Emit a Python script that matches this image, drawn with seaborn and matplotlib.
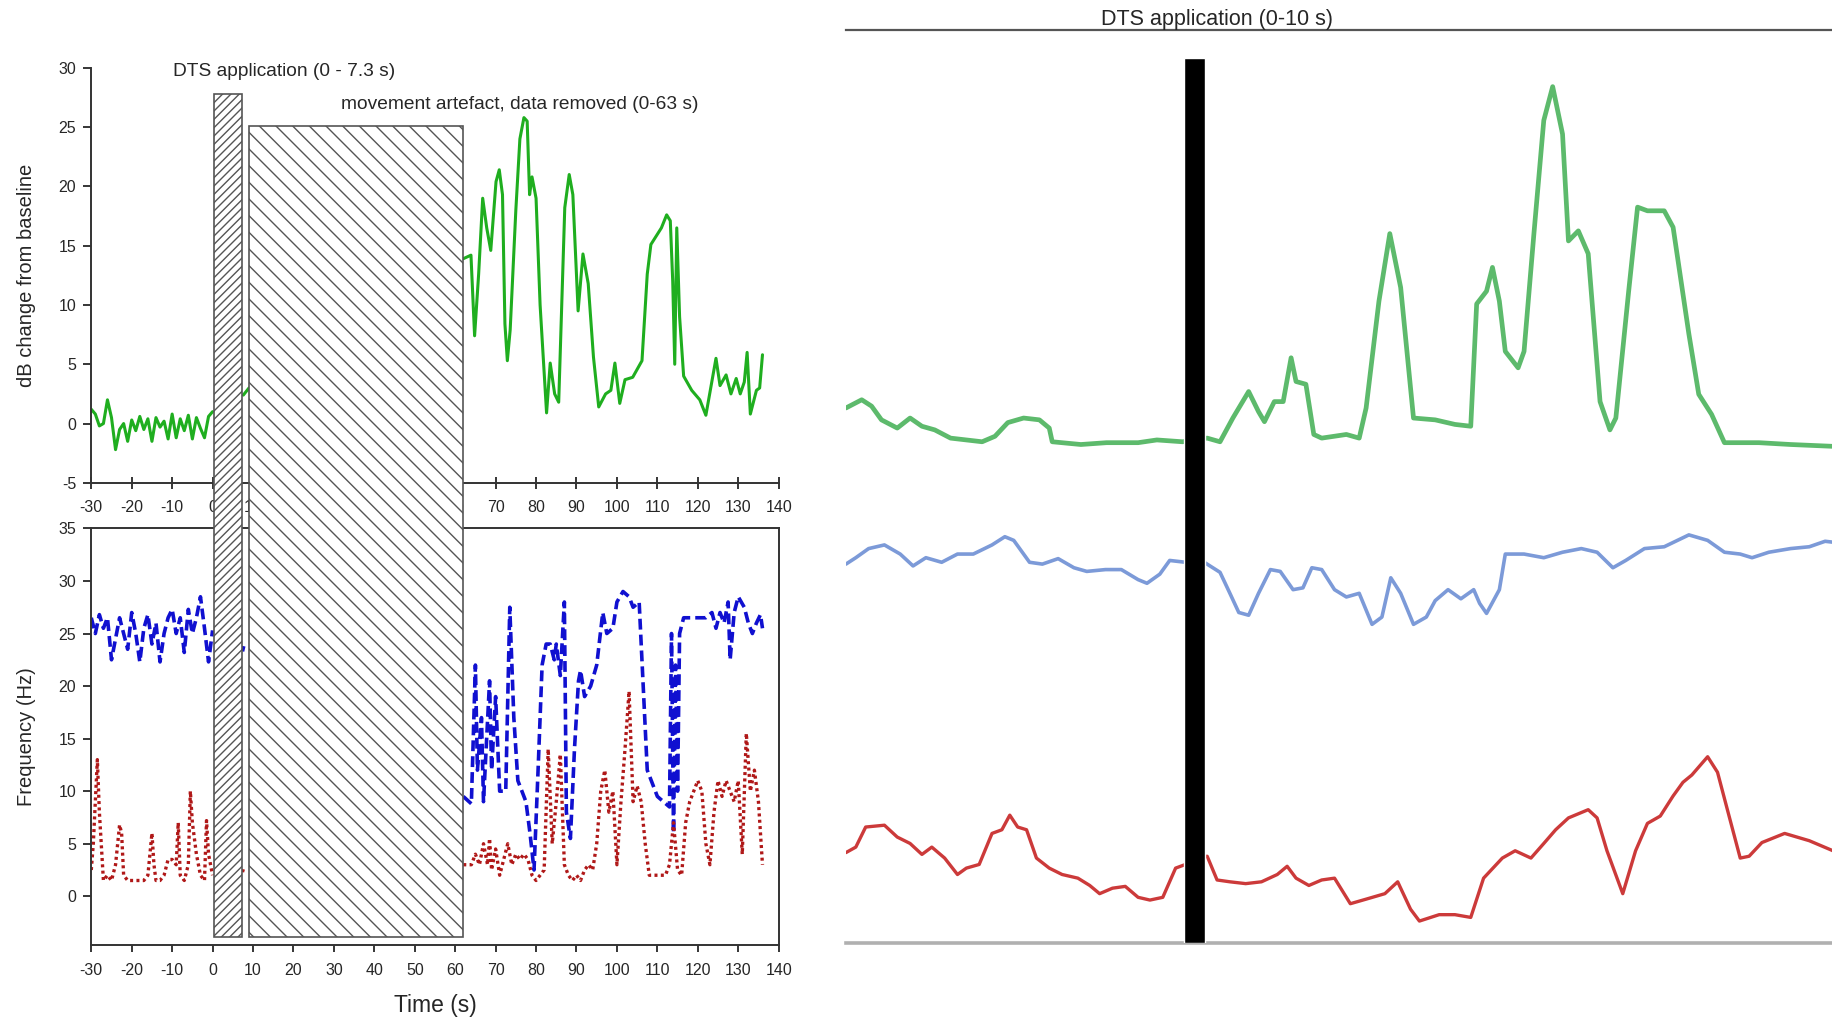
"""
DTS application: dB change and frequency traces (left) next to the
raw recording traces (right).
"""

import matplotlib
matplotlib.use("Agg")
import matplotlib.pyplot as plt
import seaborn as sns
from matplotlib.patches import Rectangle


# --- left, top panel: dB change from baseline (green) ---
G_PRE_T = [-30, -29, -28, -27, -26, -25, -24, -23, -22, -21, -20, -19, -18, -17, -16,
           -15, -14, -13, -12, -11, -10, -9, -8, -7, -6, -5, -4, -3, -2, -1, 0]
G_PRE_V = [1.2, 0.8, -0.2, 0.0, 2.0, 0.5, -2.2, -0.5, 0.0, -1.5, 0.3, -0.6, 0.6, -0.5, 0.4,
           -1.5, 0.5, -0.3, 0.2, -1.3, 0.8, -1.2, 0.4, -0.6, 0.7, -1.3, 0.5, -0.4, -1.2, 0.6, 1.0]
G_MID_T = [7.6, 9.0]
G_MID_V = [2.4, 3.0]
G_POST_T = [62.0, 63.9, 64.8, 65.8, 66.8, 67.8, 68.8, 70.1, 70.9, 71.7, 72.3, 72.9, 73.6,
            75.0, 76.0, 77.0, 77.8, 78.4, 79.0, 80.0, 81.0, 82.6, 83.5, 84.6, 85.6, 87.1,
            88.2, 89.1, 90.4, 91.6, 92.9, 94.2, 95.5, 97.2, 98.5, 99.5, 100.7, 102.0, 103.9,
            106.2, 107.5, 108.4, 111.0, 112.3, 113.2, 113.8, 114.3, 114.8, 115.5, 116.5,
            118.5, 120.5, 122.0, 124.5, 125.5, 127.0, 128.2, 129.5, 130.5, 131.5, 132.2,
            133.0, 134.5, 135.3, 136.0]
G_POST_V = [13.9, 14.2, 7.4, 12.6, 19.0, 16.5, 14.6, 20.4, 21.4, 19.3, 8.4, 5.3, 7.9,
            18.0, 24.0, 25.8, 25.5, 19.3, 20.8, 19.0, 10.0, 0.9, 5.1, 2.5, 1.8, 18.2,
            21.0, 19.3, 9.5, 14.3, 11.8, 5.6, 1.4, 2.5, 2.8, 5.1, 1.7, 3.7, 3.9,
            5.3, 12.6, 15.1, 16.5, 17.6, 17.1, 12.0, 5.0, 16.5, 9.0, 4.0,
            2.8, 2.0, 0.7, 5.5, 3.2, 4.1, 2.5, 3.8, 2.5, 3.5, 6.0,
            0.8, 2.8, 3.0, 5.8]

# --- left, bottom panel: frequency (blue dashed, red dotted) ---
B_PRE_T = G_PRE_T
B_PRE_V = [26.5, 25.0, 26.8, 25.5, 26.5, 22.5, 24.5, 26.5, 25.0, 23.5, 27.0, 25.0, 22.3, 25.5,
           26.8, 24.0, 26.0, 22.3, 25.0, 26.5, 27.3, 25.0, 26.5, 23.2, 27.3, 25.0, 26.5, 28.5,
           25.5, 22.3, 25.3]
B_MID_T = [7.4, 7.7]
B_MID_V = [23.3, 23.8]
B_POST_T = [62, 64, 65, 65.5, 66.5, 67, 68.5, 69, 70, 71, 72.5, 73.5, 74.5, 75.5, 76.5, 77.5,
            78.5, 79.5, 80.5, 81.5, 82.5, 83.5, 84.5, 85, 86, 87, 87.5, 88.5, 89.5, 90.5, 91,
            92, 93.5, 95, 96.5, 97.5, 99, 100, 101.5, 103, 104, 105.5, 106.5, 107.5, 110, 113,
            113.5, 114, 114.5, 115, 115.5, 116.5, 118, 120, 122, 123.5, 124.5, 125.5, 126.5,
            127.5, 128, 129, 130, 131.5, 132.5, 133.5, 134.5, 135.5, 136]
B_POST_V = [9.5, 8.8, 22, 12, 17, 9, 20.5, 12, 19, 10, 10, 27.5, 17, 11, 10, 9,
            6, 2.5, 12, 22, 24, 24, 22.5, 24, 21, 28, 8, 5.5, 14, 20.5, 21.5,
            19, 20, 22, 27, 25, 25.5, 28, 29, 28.5, 27.5, 28, 20, 12, 9.5, 8.5,
            25, 6, 22, 10, 25, 26.5, 26.5, 26.5, 26.5, 27, 25.5, 27, 26,
            28, 22.5, 27, 28.5, 27.5, 26, 25, 26, 26.8, 25.5]

R_PRE_T = [-30, -29.5, -28.5, -28, -27, -26, -25, -24, -23, -22.5, -22, -21, -20, -19, -18,
           -17, -16, -15, -14.5, -14, -13, -12, -11, -10, -9, -8.5, -8, -7, -6, -5.5, -5,
           -4, -3, -2, -1.5, -1, 0]
R_PRE_V = [2.5, 5, 13, 8, 1.5, 2, 1.5, 3, 6.8, 6, 2, 1.5, 1.5, 1.5, 1.5,
           1.5, 2, 6, 3, 1.5, 1.5, 2, 3.5, 3.5, 3, 7, 2, 1.5, 3, 10, 7,
           4, 2, 1.5, 7.2, 4, 2]
R_MID_T = [7.4, 7.7]
R_MID_V = [2.3, 2.7]
R_POST_T = [62, 64, 65, 66, 67, 68, 68.5, 69, 70, 71, 72, 73, 74, 75, 76, 77, 78, 79, 80, 81,
            82, 83, 84, 85, 86, 87, 88, 89, 90, 91, 92, 93, 94, 95, 96, 97, 98, 99, 100, 101,
            102, 103, 104, 105, 106, 107, 108, 110, 112, 113, 114, 115, 116, 117, 118, 120,
            121, 122, 123, 124, 125, 126, 127, 128, 129, 130, 131, 132, 133, 134, 135, 136]
R_POST_V = [3, 3, 4, 3, 5, 3, 5.5, 2.5, 4.5, 2, 3.5, 5, 3, 4, 3.5, 4, 3.5, 2, 1.5, 2,
            2.5, 14, 5, 9, 13.5, 3, 2, 1.5, 2, 1.5, 2.5, 3, 2.5, 5, 10, 12, 8, 10, 3, 9,
            14, 19.5, 9, 10.5, 9, 5, 2, 2, 2, 3, 7, 2.5, 2, 7, 9, 11,
            10, 5, 3, 8, 11, 9.5, 11, 10, 9, 11, 4, 15.5, 10, 12, 9, 3]

DTS_SPAN = (0.3, 7.3)          # s
ARTEFACT_SPAN = (9.0, 62.0)    # s

# --- right panel: raw traces, arbitrary units (0-100 both ways) ---
RG_X = [0.0, 1.6, 2.6, 3.6, 5.2, 6.5, 7.7, 9.0, 10.6, 12.2, 13.8, 15.1, 16.4, 18.0, 19.6,
        20.6, 20.9, 23.8, 26.4, 29.6, 31.5, 34.1, 36.6, 37.9, 39.2, 40.8, 41.8, 42.4, 43.4,
        44.3, 45.1, 45.6, 46.6, 47.4, 48.2, 50.7, 52.0, 52.7, 54.0, 55.1, 56.2, 57.5, 59.7,
        61.7, 63.3, 63.9, 64.9, 65.5, 66.2, 66.8, 68.1, 68.7, 69.7, 70.7, 71.6, 72.6, 73.2,
        74.2, 75.2, 76.4, 77.4, 78.0, 79.3, 80.2, 81.2, 82.9, 83.8, 85.4, 86.4, 87.7, 89.0,
        92.5, 95.7, 100.0]
RG_Y = [58.6, 59.5, 58.8, 57.3, 56.4, 57.5, 56.6, 56.2, 55.3, 55.1, 54.9, 55.5, 57.0, 57.5,
        57.3, 56.4, 54.9, 54.6, 54.8, 54.8, 55.1, 54.9, 55.3, 54.9, 57.5, 60.4, 58.2, 57.1,
        59.3, 59.3, 64.1, 61.5, 61.2, 55.7, 55.3, 55.7, 55.3, 58.6, 70.3, 77.7, 71.8, 57.5,
        57.3, 56.8, 56.6, 70.0, 71.4, 74.0, 70.3, 64.8, 63.0, 64.8, 77.7, 90.1, 93.8, 88.6,
        76.9, 78.0, 75.5, 59.3, 56.2, 57.5, 71.4, 80.6, 80.2, 80.2, 78.4, 66.7, 60.1, 57.9,
        54.8, 54.8, 54.6, 54.4]
RB_X = [0.0, 1.0, 2.3, 3.9, 5.5, 6.8, 8.1, 9.7, 11.3, 12.9, 14.8, 16.1, 17.0, 18.6, 19.9,
        21.5, 23.1, 24.4, 26.3, 27.9, 29.6, 30.5, 31.8, 32.8, 34.4, 36.3, 37.9, 38.9, 39.8,
        40.8, 41.8, 43.0, 44.0, 45.3, 46.3, 47.2, 48.2, 49.5, 50.7, 52.0, 53.3, 54.3, 55.2,
        56.2, 57.5, 58.8, 59.7, 61.0, 62.3, 63.6, 64.2, 64.9, 66.2, 66.8, 68.7, 70.7, 72.6,
        74.5, 76.1, 77.7, 79.0, 80.9, 82.9, 85.4, 87.3, 89.0, 90.6, 91.8, 93.5, 95.7, 97.6,
        99.2, 100.0]
RB_Y = [41.5, 42.2, 43.2, 43.6, 42.6, 41.3, 42.2, 41.7, 42.6, 42.6, 43.6, 44.5, 44.1, 41.7,
        41.5, 42.1, 41.1, 40.7, 40.9, 40.9, 39.8, 39.4, 40.4, 41.9, 41.7, 41.7, 40.6, 38.3,
        36.2, 35.9, 38.3, 40.9, 40.7, 38.7, 38.9, 41.1, 40.9, 38.7, 37.9, 38.3, 34.9, 35.7,
        40.0, 38.3, 34.9, 35.7, 37.5, 38.7, 37.7, 38.7, 37.2, 36.1, 38.7, 42.6, 42.6, 42.2,
        42.8, 43.2, 42.8, 41.1, 41.9, 43.2, 43.4, 44.7, 44.1, 42.8, 42.6, 42.2, 42.8, 43.2,
        43.4, 44.0, 43.9]
RR_X = [0.0, 1.0, 2.0, 3.9, 5.2, 6.5, 7.7, 8.7, 10.0, 11.3, 12.2, 13.5, 14.8, 15.8, 16.6,
        17.4, 18.3, 19.3, 20.6, 21.9, 23.5, 24.7, 25.7, 27.0, 28.3, 29.6, 30.8, 32.1, 33.4,
        34.4, 35.3, 36.6, 37.6, 38.9, 40.5, 42.1, 43.7, 44.7, 45.6, 46.9, 48.2, 49.5, 51.1,
        52.7, 54.6, 55.9, 57.2, 58.1, 60.1, 61.7, 63.3, 64.6, 66.5, 67.8, 69.4, 70.7, 71.9,
        73.2, 75.2, 76.1, 77.1, 78.7, 80.0, 81.2, 82.5, 83.8, 84.8, 85.7, 87.3, 88.3, 89.3,
        90.6, 91.5, 92.8, 95.1, 97.6, 100.0]
RR_Y = [9.9, 10.5, 12.7, 12.9, 11.6, 10.9, 9.7, 10.5, 9.3, 7.5, 8.2, 8.6, 12.0, 12.4, 14.0,
        12.7, 12.4, 9.3, 8.2, 7.5, 7.1, 6.3, 5.4, 6.0, 6.2, 5.0, 4.7, 5.0, 8.2, 8.6,
        9.3, 9.5, 6.9, 6.7, 6.5, 6.7, 7.5, 8.4, 7.1, 6.3, 6.9, 7.1, 4.3, 4.8, 5.4,
        6.7, 3.7, 2.4, 3.1, 3.1, 2.8, 7.1, 9.3, 10.1, 9.3, 10.9, 12.4, 13.7, 14.6, 13.7,
        10.1, 5.4, 10.1, 13.1, 13.9, 16.1, 17.6, 18.4, 20.4, 18.7, 14.6, 9.3, 9.5, 11.0,
        12.0, 11.2, 10.1]
BAR_X = [35.3]
BAR_TOP = [96.9]


def trace(ax, t, v, **kw):
    sns.lineplot(x=t, y=v, ax=ax, estimator=None, sort=False, **kw)


sns.set_style("ticks")
plt.rcParams["font.family"] = ["Liberation Sans", "DejaVu Sans"]
plt.rcParams["axes.unicode_minus"] = False
plt.rcParams["hatch.color"] = "#555555"
plt.rcParams["hatch.linewidth"] = 1.0

fig = plt.figure(figsize=(18.33, 10.18), dpi=100)
ax_db = fig.add_axes([0.0498, 0.5257, 0.3750, 0.4077])
ax_hz = fig.add_axes([0.0498, 0.0721, 0.3750, 0.4088])
ax_r = fig.add_axes([0.4615, 0.0737, 0.5385, 0.8968])

# --- top left ---
green = "#1fae1f"
for t, v in [(G_PRE_T, G_PRE_V), (G_MID_T, G_MID_V), (G_POST_T, G_POST_V)]:
    trace(ax_db, t, v, color=green, linewidth=2.2)
ax_db.set_xlim(-30, 140)
ax_db.set_ylim(-5, 30)
ax_db.set_xticks(range(-30, 141, 10))
ax_db.set_yticks(range(-5, 31, 5))
ax_db.spines[["top", "right"]].set_visible(False)
ax_db.set_ylabel("dB change from baseline", fontsize=14.5, labelpad=16)
ax_db.text(17.7, 29.7, "DTS application (0 - 7.3 s)", ha="center", va="center", fontsize=13.8)
ax_db.text(75.9, 26.9, "movement artefact, data removed (0-63 s)", ha="center", va="center",
           fontsize=13.8)

# --- bottom left ---
for t, v in [(B_PRE_T, B_PRE_V), (B_MID_T, B_MID_V), (B_POST_T, B_POST_V)]:
    trace(ax_hz, t, v, color="#1010d0", linewidth=2.6, linestyle=(0, (3, 1.4)))
for t, v in [(R_PRE_T, R_PRE_V), (R_MID_T, R_MID_V), (R_POST_T, R_POST_V)]:
    trace(ax_hz, t, v, color="#b01818", linewidth=2.4, linestyle=(0, (0.9, 1.0)))
ax_hz.set_xlim(-30, 140)
ax_hz.set_ylim(-4.6, 35)
ax_hz.set_xticks(range(-30, 141, 10))
ax_hz.set_yticks(range(0, 36, 5))
ax_hz.set_ylabel("Frequency (Hz)", fontsize=14.5, labelpad=16)
ax_hz.set_xlabel("Time (s)", fontsize=16.5, labelpad=12)

ax_db.tick_params(axis="x", direction="inout", length=8, width=1.3, labelsize=11.5, pad=8)
ax_hz.tick_params(axis="x", direction="out", length=5, width=1.3, labelsize=11.5, pad=8)
for ax in (ax_db, ax_hz):
    ax.tick_params(axis="y", direction="out", length=6, width=1.3, labelsize=11.5, pad=5)
    for s in ax.spines.values():
        s.set_linewidth(1.4)
        s.set_color("#333333")

# hatched boxes spanning both left panels
ax_hz.add_patch(Rectangle((DTS_SPAN[0], -3.9), DTS_SPAN[1] - DTS_SPAN[0], 80.2,
                          facecolor="white", edgecolor="#555555", hatch="////",
                          linewidth=1.2, clip_on=False, zorder=10))
ax_hz.add_patch(Rectangle((ARTEFACT_SPAN[0], -3.9), ARTEFACT_SPAN[1] - ARTEFACT_SPAN[0], 77.2,
                          facecolor="white", edgecolor="#555555", hatch="\\\\",
                          linewidth=1.2, clip_on=False, zorder=10))

# --- right panel ---
ax_r.bar(BAR_X, BAR_TOP, width=2.1, color="black", zorder=5)
trace(ax_r, RG_X, RG_Y, color="#5dba6c", linewidth=3.4)
trace(ax_r, RB_X, RB_Y, color="#7c9ad8", linewidth=2.6)
trace(ax_r, RR_X, RR_Y, color="#cc3a3a", linewidth=2.4)
ax_r.set_xlim(0, 100)
ax_r.set_ylim(0, 100)
ax_r.set_xticks([])
ax_r.set_yticks([])
ax_r.spines[["left", "right"]].set_visible(False)
ax_r.spines["top"].set_color("#555555")
ax_r.spines["top"].set_linewidth(1.6)
ax_r.spines["bottom"].set_color("#b0b0b0")
ax_r.spines["bottom"].set_linewidth(2.6)
ax_r.text(37.6, 101.2, "DTS application (0-10 s)", ha="center", va="center", fontsize=15.5,
          clip_on=False)

fig.savefig("out.png", dpi=100)
